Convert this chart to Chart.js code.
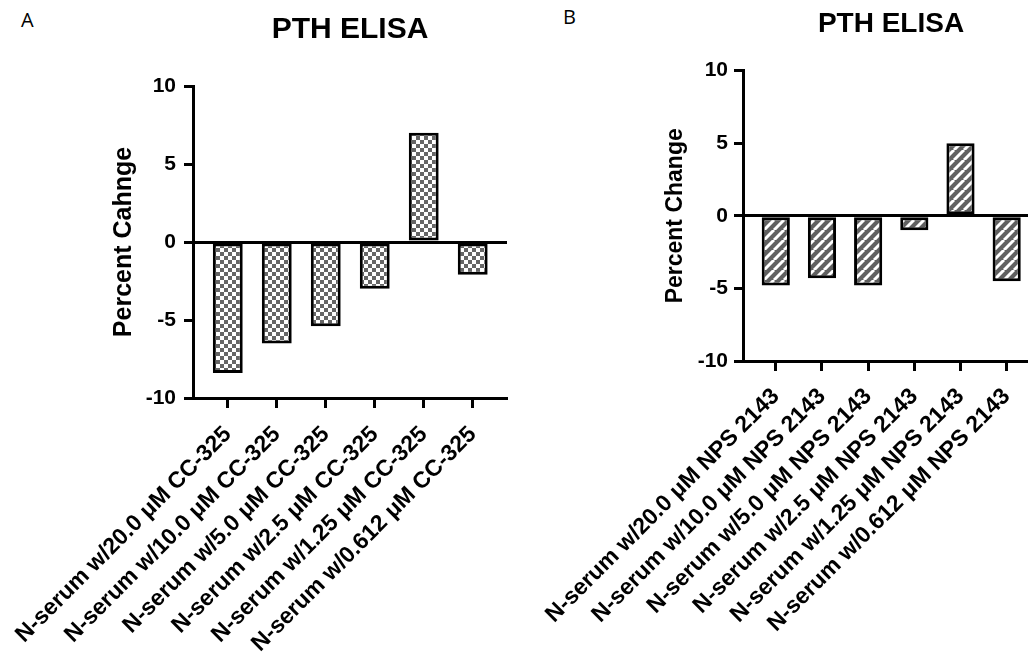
<!DOCTYPE html>
<html>
<head>
<meta charset="utf-8">
<script src="https://cdn.jsdelivr.net/npm/chart.js@4.4.0/dist/chart.umd.min.js"></script>
<style>
  html, body { margin: 0; padding: 0; background: #fff; overflow: hidden; width: 1028px; height: 658px; }
  .panel { position: absolute; top: 0; }
  .tag { position: absolute; font-family: "Open Sans", "Liberation Sans", sans-serif; font-size: 20px; color: #000; }
</style>
</head>
<body>
<div class="tag" style="left:21px; top:6px;">A</div>
<div class="tag" style="left:563px; top:3px;">B</div>
<div class="panel" style="left:0; width:514px; height:658px;"><canvas id="chartA"></canvas></div>
<div class="panel" style="left:514px; width:530px; height:658px;"><canvas id="chartB"></canvas></div>
<script>
// values
var labelsA = ["N-serum w/20.0 μM CC-325", "N-serum w/10.0 μM CC-325", "N-serum w/5.0 μM CC-325",
               "N-serum w/2.5 μM CC-325", "N-serum w/1.25 μM CC-325", "N-serum w/0.612 μM CC-325"];
var valuesA = [-8.4, -6.5, -5.4, -3.0, 7.0, -2.1];

var labelsB = ["N-serum w/20.0 μM NPS 2143", "N-serum w/10.0 μM NPS 2143", "N-serum w/5.0 μM NPS 2143",
               "N-serum w/2.5 μM NPS 2143", "N-serum w/1.25 μM NPS 2143", "N-serum w/0.612 μM NPS 2143"];
var valuesB = [-4.8, -4.3, -4.8, -1.0, 5.0, -4.5];

var yTicks = [-10, -5, 0, 5, 10];
var font = "'Liberation Sans', Arial, sans-serif";

function checkerPattern() {
    var c = document.createElement('canvas');
    c.width = 8; c.height = 8;
    var g = c.getContext('2d');
    g.fillStyle = '#fff';
    g.fillRect(0, 0, 8, 8);
    g.fillStyle = '#666';
    g.fillRect(0, 0, 4, 4);
    g.fillRect(4, 4, 4, 4);
    return g.createPattern(c, 'repeat');
}

function stripePattern() {
    var s = 10;
    var c = document.createElement('canvas');
    c.width = s; c.height = s;
    var g = c.getContext('2d');
    g.fillStyle = '#606060';
    g.fillRect(0, 0, s, s);
    g.strokeStyle = '#fff';
    g.lineWidth = 3;
    g.beginPath();
    for (var k = -1; k <= 1; k++) {
        g.moveTo(k * s, s * 1);
        g.lineTo(k * s + s, 0);
    }
    g.stroke();
    return g.createPattern(c, 'repeat');
}

function toPoints(values) {
    return values.map(function(v, i) { return {x: i + 1, y: v}; });
}

function makeChart(id, labels, values, fill, cfg) {
    var ctx = document.getElementById(id).getContext('2d');
    return new Chart(ctx, {
        type: 'bar',
        data: {
            datasets: [{
                data: toPoints(values),
                backgroundColor: fill,
                borderColor: '#000',
                borderWidth: 3,
                borderSkipped: false,
                barPercentage: 0.61,
                categoryPercentage: 1.0
            }]
        },
        options: {
            responsive: true,
            maintainAspectRatio: false,
            animation: false,
            layout: { padding: { left: cfg.padLeft, right: cfg.padRight, top: 0, bottom: 0 } },
            plugins: {
                legend: { display: false },
                tooltip: { enabled: false },
                title: {
                    display: true,
                    text: 'PTH ELISA',
                    fullSize: false,
                    color: '#000',
                    font: { family: font, size: cfg.titleSize, weight: 'bold' },
                    padding: { top: cfg.titleTop, bottom: cfg.titleBottom }
                }
            },
            scales: {
                x: {
                    type: 'linear',
                    min: 0.29,
                    max: 6.7,
                    offset: false,
                    afterBuildTicks: function(scale) {
                        scale.ticks = labels.map(function(l, i) { return {value: i + 1}; });
                    },
                    afterFit: function(scale) {
                        scale.height = cfg.xHeight;
                        scale.paddingLeft = 0;
                        scale.paddingRight = 0;
                    },
                    ticks: {
                        autoSkip: false,
                        maxRotation: 45,
                        minRotation: 45,
                        color: '#000',
                        padding: cfg.labelPad,
                        font: { family: font, size: 23, weight: 'bold' },
                        callback: function(v) { return labels[v - 1]; }
                    },
                    grid: {
                        offset: false,
                        drawOnChartArea: false,
                        drawTicks: true,
                        tickLength: 10,
                        tickWidth: 3,
                        tickColor: '#000'
                    },
                    border: { display: true, color: '#000', width: 3 }
                },
                y: {
                    min: -10,
                    max: 10,
                    afterBuildTicks: function(scale) {
                        scale.ticks = yTicks.map(function(v) { return {value: v}; });
                    },
                    afterFit: function(scale) { scale.width = cfg.yWidth; },
                    ticks: {
                        color: '#000',
                        padding: cfg.tickPad,
                        font: { family: font, size: 21, weight: 'bold' }
                    },
                    grid: {
                        drawTicks: true,
                        tickLength: 9,
                        tickWidth: 3,
                        tickColor: '#000',
                        color: function(c) { return c.tick && c.tick.value === 0 ? '#000' : 'rgba(0,0,0,0)'; },
                        lineWidth: 3
                    },
                    border: { display: true, color: '#000', width: 3 },
                    title: {
                        display: true,
                        text: cfg.yTitle,
                        color: '#000',
                        padding: 0,
                        font: { family: font, size: cfg.yTitleSize, weight: 'bold' }
                    }
                }
            }
        }
    });
}

makeChart('chartA', labelsA, valuesA, checkerPattern(), {
    padLeft: 109, padRight: 7, yWidth: 84, tickPad: 8, labelPad: 13,
    titleSize: 30, titleTop: 12, titleBottom: 38,
    xHeight: 260, yTitle: 'Percent Cahnge', yTitleSize: 25
});

makeChart('chartB', labelsB, valuesB, stripePattern(), {
    padLeft: 148, padRight: 5, yWidth: 81, tickPad: 6, labelPad: 12,
    titleSize: 28, titleTop: 7, titleBottom: 30,
    xHeight: 297, yTitle: 'Percent Change', yTitleSize: 23
});
</script>
</body>
</html>
